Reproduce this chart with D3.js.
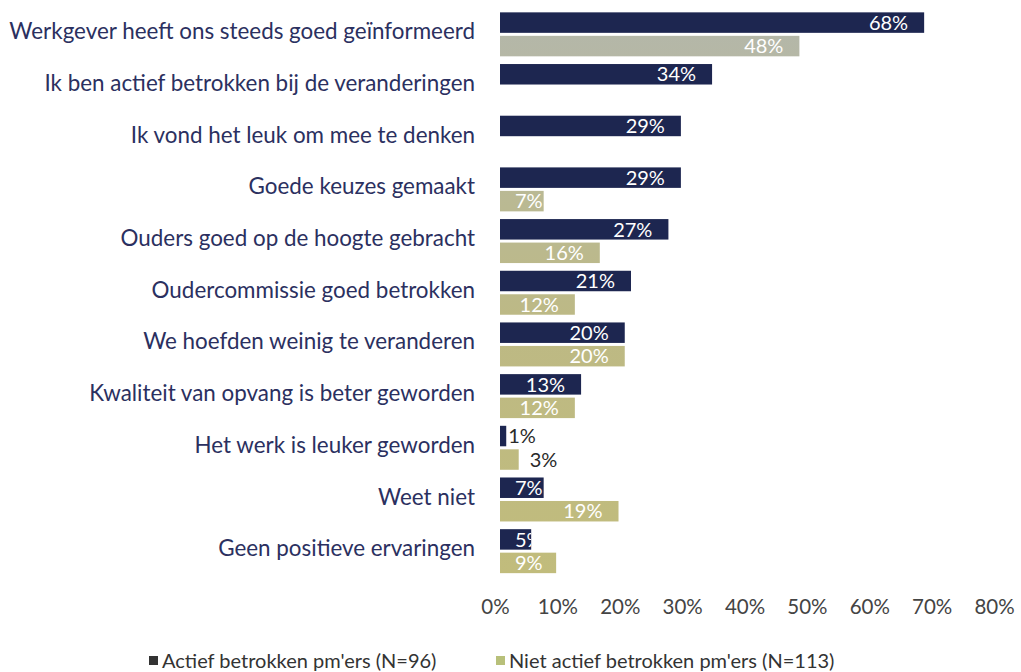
<!DOCTYPE html>
<html>
<head>
<meta charset="utf-8">
<script src="https://cdn.jsdelivr.net/npm/d3@7"></script>
<style>
  html, body { margin: 0; padding: 0; background: #ffffff; }
  svg { display: block; }
  text { font-family: Lato, "Open Sans", sans-serif; }
</style>
</head>
<body>
<svg id="chart" width="1021" height="672"></svg>
<script>
const categories = [
  "Werkgever heeft ons steeds goed geïnformeerd",
  "Ik ben actief betrokken bij de veranderingen",
  "Ik vond het leuk om mee te denken",
  "Goede keuzes gemaakt",
  "Ouders goed op de hoogte gebracht",
  "Oudercommissie goed betrokken",
  "We hoefden weinig te veranderen",
  "Kwaliteit van opvang is beter geworden",
  "Het werk is leuker geworden",
  "Weet niet",
  "Geen positieve ervaringen"
];
const actief = [68, 34, 29, 29, 27, 21, 20, 13, 1, 7, 5];
const nietActief = [48, null, null, 7, 16, 12, 20, 12, 3, 19, 9];
const seriesNames = ["Actief betrokken pm'ers (N=96)", "Niet actief betrokken pm'ers (N=113)"];
const tickValues = [0, 10, 20, 30, 40, 50, 60, 70, 80];

const svg = d3.select("#chart");
const x0 = 500, x1 = 999;
const x = d3.scaleLinear().domain([0, 80]).range([x0, x1]);
const y = d3.scaleBand().domain(categories).range([8.5, 577]).padding(0);
const sub = d3.scaleBand().domain([0, 1]).range([0, y.bandwidth()])
  .paddingInner(0.128).paddingOuter(0.164);

const defs = svg.append("defs");
const grad = defs.append("linearGradient").attr("id", "g2")
  .attr("gradientUnits", "userSpaceOnUse")
  .attr("x1", 0).attr("y1", 30).attr("x2", 0).attr("y2", 575);
grad.append("stop").attr("offset", "0%").attr("stop-color", "#b4b7a9");
grad.append("stop").attr("offset", "25%").attr("stop-color", "#b9b997");
grad.append("stop").attr("offset", "55%").attr("stop-color", "#bdb984");
grad.append("stop").attr("offset", "100%").attr("stop-color", "#c1bc7c");

const colors = ["#1d2650", "url(#g2)"];
const data = [];
categories.forEach((c, i) => {
  [actief[i], nietActief[i]].forEach((v, s) => {
    if (v !== null) data.push({ cat: c, s, v, id: i + "_" + s });
  });
});

data.forEach(d => {
  defs.append("clipPath").attr("id", "c" + d.id)
    .append("rect")
    .attr("x", x(0)).attr("y", y(d.cat) + sub(d.s))
    .attr("width", x(d.v) - x(0)).attr("height", sub.bandwidth());
});

svg.append("g").selectAll("rect").data(data).join("rect")
  .attr("x", x(0))
  .attr("y", d => y(d.cat) + sub(d.s))
  .attr("width", d => x(d.v) - x(0))
  .attr("height", d => sub.bandwidth())
  .attr("fill", d => colors[d.s]);

// value labels
const lab = svg.append("g").attr("font-size", 20);
data.forEach(d => {
  const yc = y(d.cat) + sub(d.s) + sub.bandwidth() / 2;
  const txt = d.v + "%";
  if (d.v <= 3) {
    lab.append("text")
      .attr("x", x(d.v) + (d.s === 0 ? 2 : 11))
      .attr("y", yc).attr("dy", "0.36em")
      .attr("fill", "#2a2a2a")
      .text(txt);
  } else {
    const t = lab.append("text")
      .attr("y", yc).attr("dy", "0.36em")
      .attr("fill", "#ffffff")
      .attr("clip-path", "url(#c" + d.id + ")")
      .attr("text-anchor", "end")
      .text(txt);
    const w = t.node().getComputedTextLength();
    const end = Math.max(x(d.v) - 16, x(0) + 15 + w);
    t.attr("x", end);
  }
});

// category labels
svg.append("g").selectAll("text").data(categories).join("text")
  .attr("x", 475)
  .attr("y", d => y(d) + y.bandwidth() / 2 - 3)
  .attr("dy", "0.36em")
  .attr("text-anchor", "end")
  .attr("font-size", 22.4)
  .attr("fill", "#2b3060")
  .text(d => d);

// x axis (no line)
const axis = svg.append("g").attr("transform", "translate(0,599)")
  .call(d3.axisBottom(x).tickValues(tickValues).tickFormat(d => d + "%").tickSize(0).tickPadding(0));
axis.select(".domain").remove();
axis.selectAll("text")
  .attr("font-size", 20.5)
  .attr("fill", "#444444")
  .attr("dy", "0.71em")
  .attr("dx", -5)
  .style("font-family", "Lato, 'Open Sans', sans-serif");

// legend
const leg = svg.append("g").attr("font-size", 20);
const legItems = [
  { x: 149, color: "#333333", name: seriesNames[0] },
  { x: 496, color: "#b8c07a", name: seriesNames[1] }
];
legItems.forEach(l => {
  leg.append("rect").attr("x", l.x).attr("y", 656).attr("width", 9).attr("height", 9).attr("fill", l.color);
  leg.append("text").attr("x", l.x + 13).attr("y", 661).attr("dy", "0.36em")
    .attr("fill", "#333333").text(l.name);
});
</script>
</body>
</html>
